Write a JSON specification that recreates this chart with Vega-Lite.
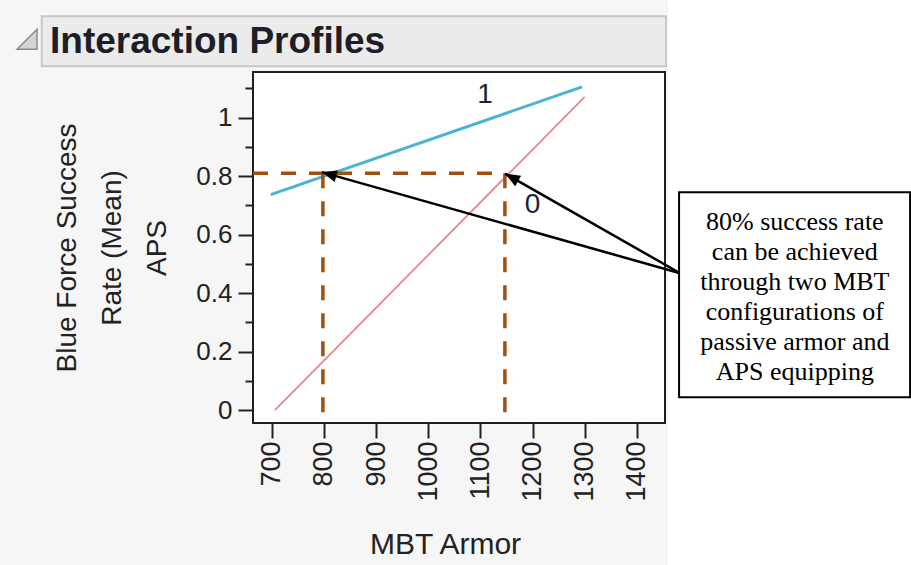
{
  "$schema": "https://vega.github.io/schema/vega-lite/v6.json",
  "width": 412,
  "height": 351,
  "autosize": {"type": "none"},
  "padding": {"left": 253, "top": 72, "right": 246, "bottom": 142},
  "background": "#F6F6F6",
  "config": {
    "view": {"fill": "white", "stroke": "#1E1E1E", "strokeWidth": 2},
    "font": "Liberation Sans"
  },
  "datasets": {
    "margin": [{"armor": 1460, "rate": 1.5, "armor2": 2100, "rate2": -0.7}],
    "panel": [{"armor": 258.9, "rate": 1.347, "armor2": 1456, "rate2": 1.176}],
    "icon": [{"armor": 230.7, "rate": 1.268}],
    "heading": [{"armor": 274.8, "rate": 1.2205, "text": "Interaction Profiles"}],
    "profile": [
      {"armor": 706, "rate": 0.0, "aps": "0"},
      {"armor": 1300, "rate": 1.071, "aps": "0"},
      {"armor": 698, "rate": 0.737, "aps": "1"},
      {"armor": 1295, "rate": 1.105, "aps": "1"}
    ],
    "guides": [
      {"armor": 664, "rate": 0.81, "armor2": 1147, "rate2": 0.81},
      {"armor": 798, "rate": 0.81, "armor2": 798, "rate2": -0.044},
      {"armor": 1147, "rate": 0.81, "armor2": 1147, "rate2": -0.044}
    ],
    "labels": [
      {"armor": 1109, "rate": 1.077, "label": "1"},
      {"armor": 1200, "rate": 0.70, "label": "0"}
    ],
    "arrows": [
      {"armor": 1483, "rate": 0.468, "armor2": 796, "rate2": 0.8137},
      {"armor": 1483, "rate": 0.468, "armor2": 1147.5, "rate2": 0.8085}
    ],
    "heads": [
      {"armor": 796, "rate": 0.8137, "head": "a"},
      {"armor": 1147.5, "rate": 0.8085, "head": "b"}
    ],
    "box": [{"armor": 1481, "rate": 0.7453, "armor2": 1924, "rate2": 0.0444}],
    "note": [{"armor": 1703, "rate": 0.643, "note": "80% success rate\ncan be achieved\nthrough two MBT\nconfigurations of\npassive armor and\nAPS equipping"}]
  },
  "encoding": {
    "x": {
      "field": "armor",
      "type": "quantitative",
      "scale": {"domain": [664, 1454], "nice": false, "zero": false},
      "axis": {
        "title": "MBT Armor",
        "values": [700, 800, 900, 1000, 1100, 1200, 1300, 1400],
        "format": "d",
        "labelAngle": -90,
        "labelFontSize": 27,
        "labelColor": "#222222",
        "tickSize": 15,
        "tickWidth": 2,
        "tickColor": "#222222",
        "labelPadding": 3,
        "domain": false,
        "grid": false,
        "labelFlush": false,
        "labelOverlap": false,
        "titleFontSize": 30,
        "titleFontWeight": "normal",
        "titleColor": "#222222",
        "titlePadding": 28,
        "titleX": 192
      }
    },
    "y": {
      "field": "rate",
      "type": "quantitative",
      "scale": {"domain": [-0.044, 1.156], "nice": false, "zero": false},
      "axis": {
        "title": ["Blue Force Success", "Rate (Mean)", "APS"],
        "values": [0, 0.1, 0.2, 0.3, 0.4, 0.5, 0.6, 0.7, 0.8, 0.9, 1, 1.1],
        "format": "~g",
        "labelExpr": "round(datum.value*10)%2==0 ? datum.label : ''",
        "tickSize": {"condition": {"test": "round(datum.value*10)%2==0", "value": 15}, "value": 8},
        "tickWidth": 2,
        "tickColor": "#222222",
        "labelFontSize": 26,
        "labelColor": "#222222",
        "labelPadding": 6,
        "domain": false,
        "grid": false,
        "labelFlush": false,
        "labelOverlap": false,
        "titleFontSize": 28,
        "titleFontWeight": "normal",
        "titleColor": "#222222",
        "titleLineHeight": 45,
        "titlePadding": 24
      }
    }
  },
  "layer": [
    {
      "data": {"name": "margin"},
      "mark": {"type": "rect", "fill": "white", "clip": false},
      "encoding": {"x2": {"field": "armor2"}, "y2": {"field": "rate2"}}
    },
    {
      "data": {"name": "panel"},
      "mark": {"type": "rect", "fill": "#EBEBEB", "stroke": "#C8C8C8", "strokeWidth": 2, "clip": false},
      "encoding": {"x2": {"field": "armor2"}, "y2": {"field": "rate2"}}
    },
    {
      "data": {"name": "icon"},
      "mark": {"type": "point", "shape": "M1,-1L1,1L-1,1Z", "size": 400, "filled": true, "fill": "#D4D4D4", "stroke": "#8C8C8C", "strokeWidth": 1.5, "opacity": 1, "clip": false}
    },
    {
      "data": {"name": "heading"},
      "mark": {"type": "text", "align": "left", "baseline": "alphabetic", "fontSize": 37, "fontWeight": "bold", "color": "#1E1E28", "clip": false},
      "encoding": {"text": {"field": "text"}}
    },
    {
      "data": {"name": "profile"},
      "transform": [{"filter": "datum.aps == '0'"}],
      "mark": {"type": "line", "color": "#E8868D", "strokeWidth": 1.8},
      "encoding": {}
    },
    {
      "data": {"name": "profile"},
      "transform": [{"filter": "datum.aps == '1'"}],
      "mark": {"type": "line", "color": "#4DB4CF", "strokeWidth": 3},
      "encoding": {}
    },
    {
      "data": {"name": "guides"},
      "mark": {"type": "rule", "color": "#A0500F", "strokeWidth": 3.5, "strokeDash": [15, 13], "clip": false},
      "encoding": {"x2": {"field": "armor2"}, "y2": {"field": "rate2"}}
    },
    {
      "data": {"name": "labels"},
      "mark": {"type": "text", "fontSize": 28, "color": "#222233", "align": "center", "baseline": "middle"},
      "encoding": {"text": {"field": "label"}}
    },
    {
      "data": {"name": "arrows"},
      "mark": {"type": "rule", "color": "black", "strokeWidth": 2.5, "clip": false},
      "encoding": {"x2": {"field": "armor2"}, "y2": {"field": "rate2"}}
    },
    {
      "data": {"name": "heads"},
      "transform": [{"filter": "datum.head == 'a'"}],
      "mark": {"type": "point", "shape": "M0,0L-0.8,2L0.8,2Z", "size": 225, "angle": 285.7, "filled": true, "color": "black", "opacity": 1, "clip": false}
    },
    {
      "data": {"name": "heads"},
      "transform": [{"filter": "datum.head == 'b'"}],
      "mark": {"type": "point", "shape": "M0,0L-0.8,2L0.8,2Z", "size": 225, "angle": 299.6, "filled": true, "color": "black", "opacity": 1, "clip": false}
    },
    {
      "data": {"name": "box"},
      "mark": {"type": "rect", "fill": "white", "stroke": "black", "strokeWidth": 2, "clip": false},
      "encoding": {"x2": {"field": "armor2"}, "y2": {"field": "rate2"}}
    },
    {
      "data": {"name": "note"},
      "mark": {"type": "text", "font": "Liberation Serif", "fontSize": 26, "lineHeight": 30, "lineBreak": "\n", "align": "center", "baseline": "middle", "color": "black", "clip": false},
      "encoding": {"text": {"field": "note"}}
    }
  ]
}
